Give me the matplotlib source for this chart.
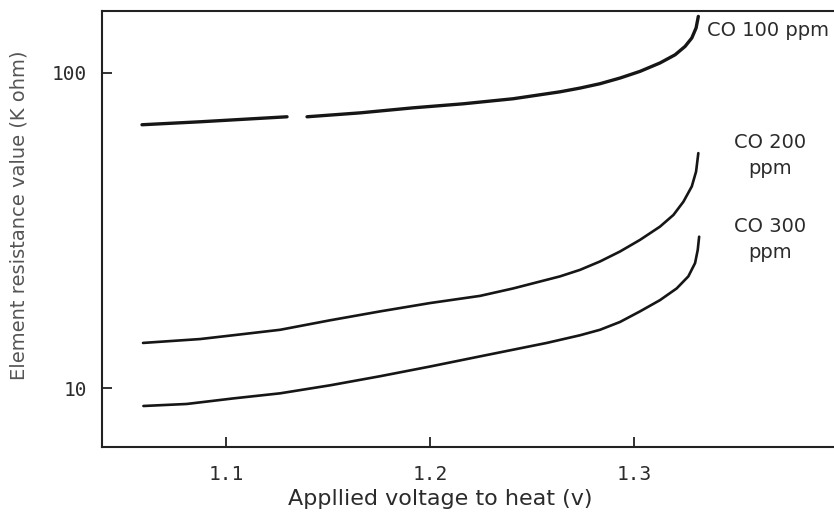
import numpy as np
import matplotlib
matplotlib.use('Agg')
import matplotlib.pyplot as plt

# Datos (voltaje aplicado V, resistencia K ohm)
# el hueco (nan) en CO 100 ppm es el corte que trae la curva original
v_co100 = [1.0588, 1.0873, 1.1299, np.nan, 1.1397, 1.1657, 1.1917, 1.2162, 1.2407, 1.2637,
           1.2735, 1.2833, 1.2931, 1.3029, 1.3127, 1.3201, 1.3250, 1.3283, 1.3304, 1.3315]
r_co100 = [68.4, 69.9, 72.5, np.nan, 72.5, 74.6, 77.4, 79.7, 82.7, 87.0,
           89.4, 92.3, 96.2, 101.0, 107.4, 114.0, 121.2, 128.9, 138.7, 150.9]

v_co200 = [1.0593, 1.0873, 1.1034, 1.1265, 1.1510, 1.1755, 1.2000, 1.2245, 1.2408, 1.2637,
           1.2735, 1.2833, 1.2931, 1.3029, 1.3127, 1.3193, 1.3242, 1.3283, 1.3304, 1.3315]
r_co200 = [13.9, 14.3, 14.7, 15.3, 16.4, 17.5, 18.6, 19.6, 20.7, 22.6,
           23.7, 25.2, 27.1, 29.5, 32.5, 35.4, 39.0, 43.6, 48.6, 55.6]

v_co300 = [1.0595, 1.0807, 1.1036, 1.1265, 1.1510, 1.1755, 1.2000, 1.2245, 1.2572, 1.2735,
           1.2833, 1.2931, 1.3029, 1.3127, 1.3209, 1.3266, 1.3299, 1.3312, 1.3319]
r_co300 = [8.77, 8.9, 9.27, 9.62, 10.2, 10.9, 11.7, 12.6, 13.9, 14.7,
           15.3, 16.2, 17.5, 19.0, 20.7, 22.6, 24.9, 27.4, 30.2]

xticks = [1.1, 1.2, 1.3]
xticklabels = ['1.1', '1.2', '1.3']
yticks = [10, 100]
yticklabels = ['10', '100']

col_txt = '#2b2b2b'
col_line = '#161616'

fig = plt.figure(figsize=(8.34, 5.28), dpi=100)
ax = fig.add_axes([0.1223, 0.1534, 0.8777, 0.8258])

ax.plot(v_co100, r_co100, color=col_line, linewidth=2.4, solid_capstyle='round')
ax.plot(v_co200, r_co200, color=col_line, linewidth=1.9, solid_capstyle='round')
ax.plot(v_co300, r_co300, color=col_line, linewidth=1.9, solid_capstyle='round')

ax.set_yscale('log')
ax.set_xlim(1.0392, 1.398)
ax.set_ylim(6.5, 157)

ax.set_xticks(xticks)
ax.set_xticklabels(xticklabels)
ax.set_yticks(yticks)
ax.set_yticklabels(yticklabels)
ax.yaxis.set_minor_locator(matplotlib.ticker.NullLocator())

ax.tick_params(axis='both', direction='in', length=7.5, width=1.3, colors='#222222',
               labelcolor=col_txt, labelsize=14)
ax.tick_params(axis='x', pad=13)
ax.tick_params(axis='y', pad=11)
for lbl in ax.get_xticklabels() + ax.get_yticklabels():
    lbl.set_family('DejaVu Sans Mono')

ax.spines['right'].set_visible(False)
for s in ['left', 'top', 'bottom']:
    ax.spines[s].set_linewidth(1.5)
    ax.spines[s].set_color('#222222')

ax.set_xlabel('Appllied voltage to heat (v)', fontsize=16, color=col_txt)
ax.xaxis.set_label_coords(0.462, -0.097)
ax.set_ylabel('Element resistance value (K ohm)', fontsize=14, color='#555555')
ax.yaxis.set_label_coords(-0.101, 0.532)

# etiquetas de cada curva
ax.text(1.3358, 131, 'CO 100 ppm', fontsize=14, color=col_txt, ha='left', va='baseline')
ax.text(1.3667, 57.8, 'CO 200', fontsize=14, color=col_txt, ha='center', va='baseline')
ax.text(1.3667, 47.8, 'ppm', fontsize=14, color=col_txt, ha='center', va='baseline')
ax.text(1.3667, 31.3, 'CO 300', fontsize=14, color=col_txt, ha='center', va='baseline')
ax.text(1.3667, 25.9, 'ppm', fontsize=14, color=col_txt, ha='center', va='baseline')

fig.savefig('out.png', dpi=100)
